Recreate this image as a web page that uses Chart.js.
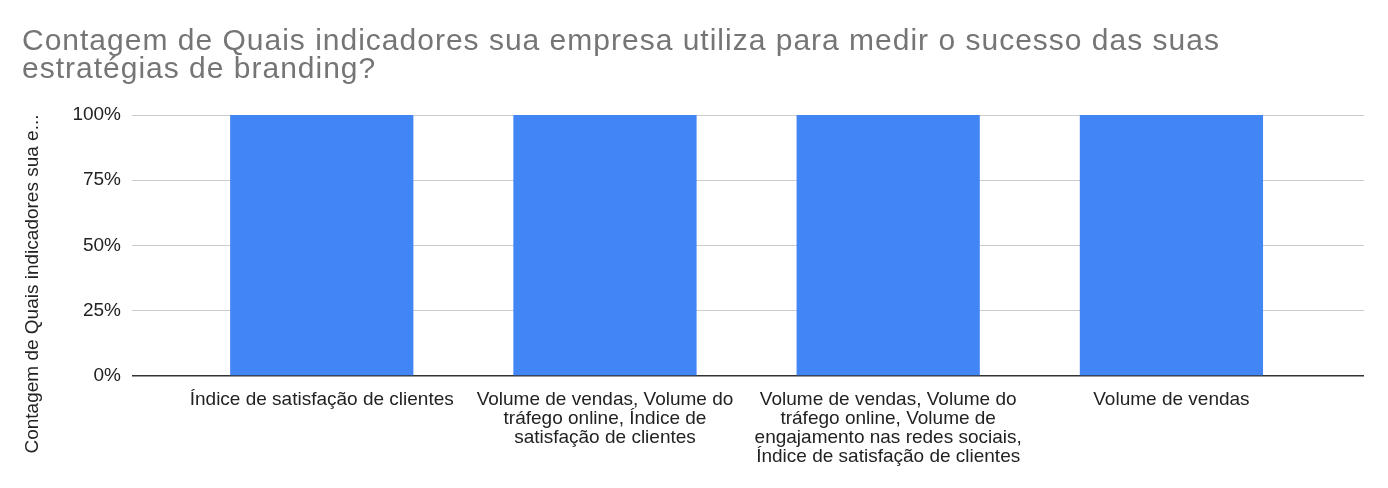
<!DOCTYPE html>
<html>
<head>
<meta charset="utf-8">
<script src="https://cdn.jsdelivr.net/npm/chart.js@4.4.1/dist/chart.umd.min.js"></script>
<style>
  html, body { margin: 0; padding: 0; background: #fff; }
  #wrap { width: 1388px; height: 488px; }
</style>
</head>
<body>
<div id="wrap"><canvas id="c"></canvas></div>
<script>
const titleLines = [
  "Contagem de Quais indicadores sua empresa utiliza para medir o sucesso das suas",
  "estratégias de branding?"
];
const yTitle = "Contagem de Quais indicadores sua e...";
const categories = [
  ["Índice de satisfação de clientes"],
  ["Volume de vendas, Volume do", "tráfego online, Índice de", "satisfação de clientes"],
  ["Volume de vendas, Volume do", "tráfego online, Volume de", "engajamento nas redes sociais,", "Índice de satisfação de clientes"],
  ["Volume de vendas"]
];
const values = [1, 1, 1, 1];
const yTicks = [0, 0.25, 0.5, 0.75, 1];

const FONT = "Liberation Sans, Arial, sans-serif";

// title + rotated y axis title, drawn by hand so they sit like the original
const textPlugin = {
  id: "texts",
  afterDraw(chart) {
    const ctx = chart.ctx;
    ctx.save();
    ctx.font = "30px " + FONT;
    ctx.fillStyle = "#757575";
    ctx.textAlign = "left";
    ctx.textBaseline = "alphabetic";
    ctx.letterSpacing = "1px";
    ctx.fillText(titleLines[0], 22, 50);
    ctx.fillText(titleLines[1], 22, 78);
    ctx.restore();

    ctx.save();
    ctx.translate(33, 284);
    ctx.rotate(-Math.PI / 2);
    ctx.font = "19px " + FONT;
    ctx.fillStyle = "#222";
    ctx.textAlign = "center";
    ctx.textBaseline = "middle";
    ctx.fillText(yTitle, 0, 0);
    ctx.restore();
  }
};

new Chart(document.getElementById("c"), {
  type: "bar",
  data: {
    datasets: [{
      data: values.map((v, i) => ({ x: i, y: v })),
      backgroundColor: "#4285f4",
      barPercentage: 0.647,
      categoryPercentage: 1
    }]
  },
  options: {
    responsive: true,
    maintainAspectRatio: false,
    animation: false,
    layout: { padding: { left: 0, right: 24, top: 115, bottom: 0 } },
    plugins: {
      legend: { display: false },
      tooltip: { enabled: false },
      title: { display: false }
    },
    scales: {
      x: {
        type: "linear",
        offset: false,
        min: -0.67,
        max: 3.68,
        grid: { display: false },
        border: { display: false },
        afterBuildTicks: s => { s.ticks = categories.map((c, i) => ({ value: i })); },
        afterFit: s => { s.height = 112; },
        ticks: {
          color: "#222",
          font: { family: FONT, size: 19, lineHeight: 1.0 },
          padding: 6,
          maxRotation: 0,
          autoSkip: false,
          callback: v => categories[v]
        }
      },
      y: {
        min: 0,
        max: 1,
        afterBuildTicks: s => { s.ticks = yTicks.map(v => ({ value: v })); },
        afterFit: s => { s.width = 132; },
        border: { display: false },
        grid: {
          drawTicks: false,
          color: c => c.tick && c.tick.value === 0 ? "#333" : "#ccc",
          lineWidth: c => c.tick && c.tick.value === 0 ? 1.5 : 1
        },
        ticks: {
          color: "#222",
          font: { family: FONT, size: 19 },
          padding: 11,
          callback: v => Math.round(v * 100) + "%"
        }
      }
    }
  },
  plugins: [textPlugin]
});
</script>
</body>
</html>
